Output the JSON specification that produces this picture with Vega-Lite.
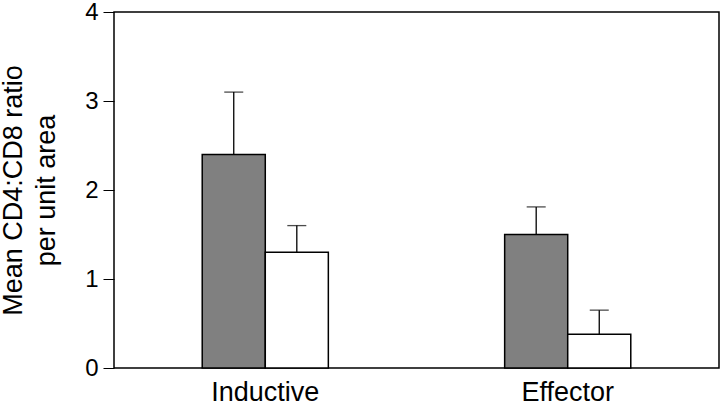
{
  "$schema": "https://vega.github.io/schema/vega-lite/v6.json",
  "width": 605,
  "height": 356,
  "autosize": {"type": "none"},
  "padding": {"left": 114, "top": 12, "right": 1, "bottom": 38},
  "background": "white",
  "config": {
    "view": {"stroke": "black", "strokeWidth": 1.5},
    "font": "Liberation Sans",
    "axis": {"labelColor": "black", "titleColor": "black", "domainColor": "black", "tickColor": "black", "grid": false}
  },
  "data": {
    "values": [
      {"site": "Inductive", "group": "A", "value": 2.4, "upper": 3.1},
      {"site": "Inductive", "group": "B", "value": 1.3, "upper": 1.6},
      {"site": "Effector", "group": "A", "value": 1.5, "upper": 1.81},
      {"site": "Effector", "group": "B", "value": 0.38, "upper": 0.65}
    ]
  },
  "encoding": {
    "x": {
      "field": "site", "type": "nominal", "sort": ["Inductive", "Effector"],
      "scale": {"paddingInner": 0.583, "paddingOuter": 0.2917},
      "axis": {"title": null, "labelAngle": 0, "ticks": false, "labelFontSize": 27, "labelPadding": 11, "domain": false}
    },
    "xOffset": {"field": "group", "type": "nominal", "scale": {"paddingInner": 0, "paddingOuter": 0}}
  },
  "layer": [
    {
      "mark": {"type": "rule", "stroke": "black", "strokeWidth": 1.3},
      "encoding": {
        "y": {"field": "value", "type": "quantitative"},
        "y2": {"field": "upper"}
      }
    },
    {
      "mark": {"type": "tick", "orient": "horizontal", "color": "black", "size": 19, "thickness": 1.3},
      "encoding": {
        "y": {"field": "upper", "type": "quantitative"}
      }
    },
    {
      "mark": {"type": "bar", "stroke": "black", "strokeWidth": 1.5},
      "encoding": {
        "y": {
          "field": "value", "type": "quantitative",
          "scale": {"domain": [0, 4], "nice": false},
          "axis": {
            "values": [0, 1, 2, 3, 4], "format": "d", "tickSize": 11, "tickWidth": 1, "labelFontSize": 24, "labelPadding": 5,
            "domain": false,
            "title": ["Mean CD4:CD8 ratio", "per unit area"], "titleFontSize": 27, "titleFontWeight": "normal",
            "titlePadding": 24, "titleLineHeight": 33
          }
        },
        "fill": {
          "field": "group", "type": "nominal",
          "scale": {"domain": ["A", "B"], "range": ["#808080", "#ffffff"]},
          "legend": null
        }
      }
    }
  ]
}
